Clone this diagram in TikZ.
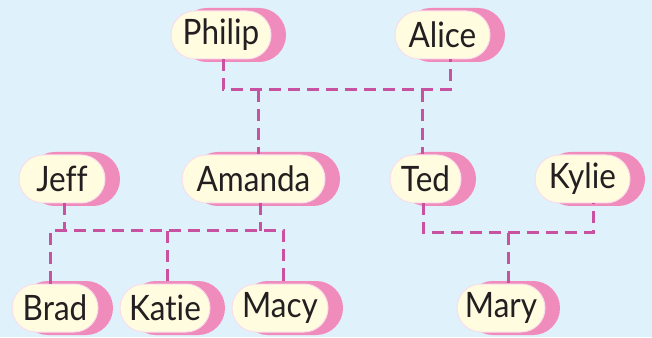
\documentclass[tikz,border=0pt]{standalone}
\usepackage{fontspec}
\setmainfont{Lato}[FakeStretch=0.9, Ligatures=NoCommon]
\usetikzlibrary{shapes.misc}
\definecolor{bgc}{RGB}{223,241,250}
\definecolor{creamc}{RGB}{255,252,224}
\definecolor{pinkc}{RGB}{240,140,187}
\definecolor{linec}{RGB}{200,82,160}
\definecolor{textc}{RGB}{35,31,32}
\tikzset{
  pill/.style={rounded rectangle, fill=creamc, draw=white!70!pinkc, line width=1pt,
    minimum height=48pt, inner xsep=2pt, text=textc,
    font=\fontsize{35}{35}\selectfont,
    preaction={fill=pinkc, draw=pinkc, line width=6pt, transform canvas={xshift=12pt}}},
  conn/.style={draw=linec, line width=3pt, dash pattern=on 12pt off 7pt}
}
\begin{document}
\begin{tikzpicture}[x=1pt,y=1pt]
\fill[bgc] (0,0) rectangle (652,337);
\useasboundingbox (0,0) rectangle (652,337);
% row 1
\node[pill, minimum width=104pt] (philip) at (221,302) {Philip};
\node[pill, minimum width=99pt] (alice) at (442.5,302) {Alice};
% row 2
\node[pill, minimum width=90pt] (jeff) at (62,158) {Jeff};
\node[pill, minimum width=147pt] (amanda) at (253.5,158) {Amanda};
\node[pill, minimum width=75pt] (ted) at (425.5,158) {Ted};
\node[pill, minimum width=99pt] (kylie) at (582.5,158) {Kylie};
% row 3
\node[pill, minimum width=90pt] (brad) at (55,29) {Brad};
\node[pill, minimum width=94pt] (katie) at (165,29) {Katie};
\node[pill, minimum width=100pt] (macy) at (280,29) {Macy};
\node[pill, minimum width=92pt] (mary) at (501,29) {Mary};
% junctions
\coordinate (pL) at (223,247);
\coordinate (pR) at (450,247);
\coordinate (dAm) at (258,247);
\coordinate (dTe) at (422,247);
\coordinate (lL) at (50,106);
\coordinate (lR) at (283,106);
\coordinate (dJe) at (64,106);
\coordinate (dAm2) at (260,106);
\coordinate (dKa) at (167,106);
\coordinate (rL) at (423,104);
\coordinate (rR) at (593,104);
\coordinate (dMa) at (508,104);
% connectors
\draw[conn] (pL |- philip.south) -- (pL) -- (pR) -- (pR |- alice.south);
\draw[conn] (dAm) -- (dAm |- amanda.north);
\draw[conn] (dTe) -- (dTe |- ted.north);
\draw[conn] (lL |- brad.north) -- (lL) -- (lR) -- (lR |- macy.north);
\draw[conn] (dJe |- jeff.south) -- (dJe);
\draw[conn] (dAm2 |- amanda.south) -- (dAm2);
\draw[conn] (dKa) -- (dKa |- katie.north);
\draw[conn] (rL |- ted.south) -- (rL) -- (rR) -- (rR |- kylie.south);
\draw[conn] (dMa) -- (dMa |- mary.north);
\end{tikzpicture}
\end{document}
